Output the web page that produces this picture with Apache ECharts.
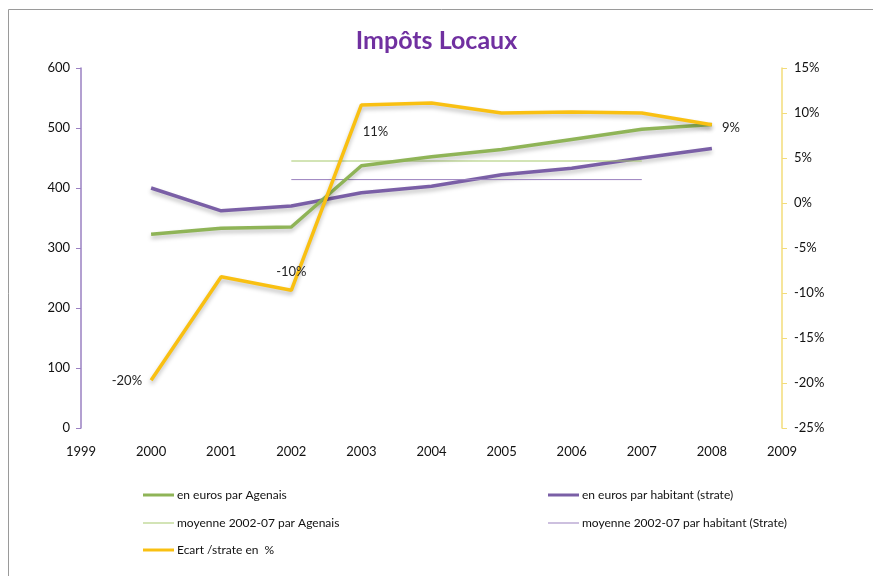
<!DOCTYPE html>
<html>
<head>
<meta charset="utf-8">
<script src="https://cdn.jsdelivr.net/npm/echarts@6/dist/echarts.min.js"></script>
<style>html,body{margin:0;padding:0;background:#fff}#c{width:873px;height:576px}</style>
</head>
<body>
<div id="c"></div>
<script>
const years = [2000, 2001, 2002, 2003, 2004, 2005, 2006, 2007, 2008];
const agenais = [323, 333, 335, 437, 452, 464, 481, 498, 506];
const strate = [400, 362, 370, 392, 403, 422, 433, 450, 466];
const moyYears = [2002, 2007];
const moyAgenais = 445;
const moyStrate = 414;
const ecart = [-19.7, -8.2, -9.7, 10.9, 11.1, 10.0, 10.1, 10.0, 8.7];
const leftTicks = [0, 100, 200, 300, 400, 500, 600];
const rightTicks = [-25, -20, -15, -10, -5, 0, 5, 10, 15];
const names = ['en euros par Agenais', 'en euros par habitant (strate)', 'moyenne 2002-07 par Agenais', 'moyenne 2002-07 par habitant (Strate)', 'Ecart /strate en  %'];
const labelledYears = [2000, 2002, 2003, 2008];

const FONT = 'Lato, "Open Sans", sans-serif';
const GREEN = '#8FB457', PURPLE = '#7A5FA6', YELLOW = '#F9C012';
const shadow = {shadowColor: 'rgba(0,0,0,0.25)', shadowBlur: 4, shadowOffsetY: 3};

const labelCfg = {
  2000: {position: 'left', distance: 9, offset: [0, 1]},
  2002: {position: 'top', distance: 12, offset: [0, 0]},
  2003: {position: 'bottom', distance: 20, offset: [14, 0]},
  2008: {position: 'right', distance: 10, offset: [0, 3]}
};

const ecartData = years.map((y, i) => {
  const d = {value: [y, ecart[i]]};
  if (labelledYears.includes(y)) {
    d.label = Object.assign({show: true, formatter: Math.round(ecart[i]) + '%'}, labelCfg[y]);
  }
  return d;
});

const chart = echarts.init(document.getElementById('c'));
const legendBase = {
  icon: 'rect', itemWidth: 31, itemHeight: 3, itemGap: 0,
  textStyle: {fontFamily: FONT, fontSize: 12, color: '#111', padding: [0, 0, 0, -2]},
  selectedMode: false
};
chart.setOption({
  animation: false,
  backgroundColor: '#fff',
  title: {
    text: 'Impôts Locaux', left: 'center', top: 23,
    textStyle: {fontFamily: FONT, fontSize: 25, fontWeight: 'bold', color: '#7030A0'}
  },
  graphic: [{
    type: 'rect', shape: {x: 8.5, y: 9.5, width: 900, height: 700},
    style: {fill: 'none', stroke: '#9a9a9a', lineWidth: 1}, silent: true, z: -1
  }],
  grid: {left: 81, right: 91, top: 68, bottom: 148},
  xAxis: {
    type: 'value', min: 1999, max: 2009, interval: 1,
    axisLine: {show: false}, axisTick: {show: false}, splitLine: {show: false},
    axisLabel: {margin: 17, fontFamily: FONT, fontSize: 13, color: '#111', formatter: v => String(v)}
  },
  yAxis: [{
    type: 'value', min: leftTicks[0], max: leftTicks[leftTicks.length - 1], interval: 100,
    position: 'left',
    axisLine: {show: true, lineStyle: {color: '#9A80C2', width: 1.5}},
    axisTick: {show: true, length: 5, lineStyle: {color: '#9A80C2'}},
    splitLine: {show: false},
    axisLabel: {margin: 11, fontFamily: FONT, fontSize: 13, color: '#111'}
  }, {
    type: 'value', min: rightTicks[0], max: rightTicks[rightTicks.length - 1], interval: 5,
    position: 'right',
    axisLine: {show: true, lineStyle: {color: '#F3DC7A', width: 1.5}},
    axisTick: {show: true, length: 5, lineStyle: {color: '#F3DC7A'}},
    splitLine: {show: false},
    axisLabel: {margin: 12, fontFamily: FONT, fontSize: 13, color: '#111', formatter: v => v + '%'}
  }],
  legend: [
    Object.assign({}, legendBase, {data: [names[0]], left: 138, top: 484}),
    Object.assign({}, legendBase, {data: [names[1]], left: 543, top: 484}),
    Object.assign({}, legendBase, {data: [names[2]], left: 138, top: 512, itemHeight: 1}),
    Object.assign({}, legendBase, {data: [names[3]], left: 543, top: 512, itemHeight: 1}),
    Object.assign({}, legendBase, {data: [names[4]], left: 138, top: 539})
  ],
  series: [{
    name: names[0], type: 'line', yAxisIndex: 0, showSymbol: false, symbol: 'none',
    data: years.map((y, i) => [y, agenais[i]]),
    itemStyle: {color: GREEN},
    lineStyle: Object.assign({color: GREEN, width: 3.5}, shadow), z: 3
  }, {
    name: names[1], type: 'line', yAxisIndex: 0, showSymbol: false, symbol: 'none',
    data: years.map((y, i) => [y, strate[i]]),
    itemStyle: {color: PURPLE},
    lineStyle: Object.assign({color: PURPLE, width: 3.5}, shadow), z: 2
  }, {
    name: names[2], type: 'line', yAxisIndex: 0, showSymbol: false, symbol: 'none',
    data: moyYears.map(y => [y, moyAgenais]),
    itemStyle: {color: '#A6C96D'},
    lineStyle: {color: '#A6C96D', width: 1}, z: 2
  }, {
    name: names[3], type: 'line', yAxisIndex: 0, showSymbol: false, symbol: 'none',
    data: moyYears.map(y => [y, moyStrate]),
    itemStyle: {color: '#9A80BE'},
    lineStyle: {color: '#9A80BE', width: 1}, z: 2
  }, {
    name: names[4], type: 'line', yAxisIndex: 1, showSymbol: true, symbol: 'circle', symbolSize: 0.1,
    data: ecartData,
    itemStyle: {color: YELLOW},
    lineStyle: Object.assign({color: YELLOW, width: 3.5}, shadow),
    label: {show: false, fontFamily: FONT, fontSize: 13, color: '#222'},
    z: 4
  }]
});
</script>
</body>
</html>
